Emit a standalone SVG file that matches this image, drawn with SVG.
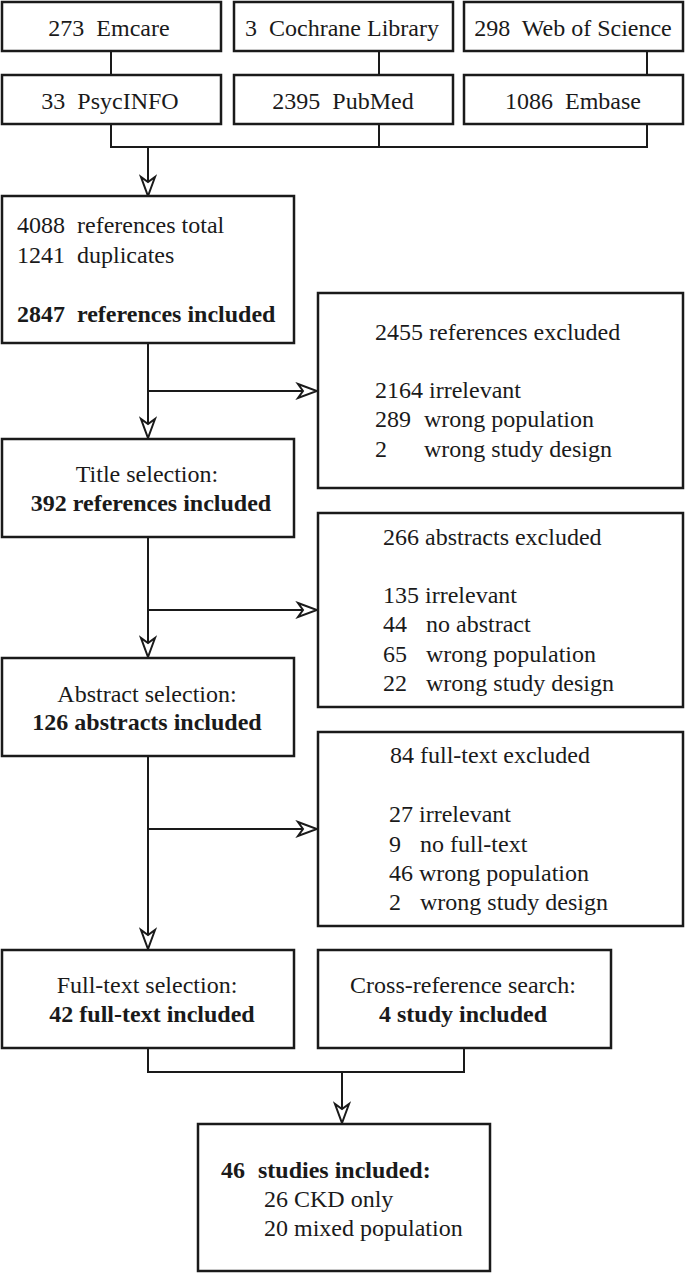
<svg xmlns="http://www.w3.org/2000/svg" width="685" height="1273" viewBox="0 0 685 1273">
<style>
.box{fill:#fff;stroke:#1a1a1a;stroke-width:2.5}
.ln{fill:none;stroke:#1a1a1a;stroke-width:2}
text{font-family:"Liberation Serif","Times New Roman",serif;font-size:24px;fill:#1a1a1a}
.b{font-weight:bold}
.c{text-anchor:middle}
.p{white-space:pre}
</style>
<defs>
<marker id="ah" markerUnits="userSpaceOnUse" viewBox="-22 -9 24 18" refX="0" refY="0" markerWidth="24" markerHeight="18" orient="auto">
<path d="M-19,-7 L0,0 L-19,7 L-14,0 Z" fill="#fff" stroke="#1a1a1a" stroke-width="2" stroke-linejoin="miter"/>
</marker>
</defs>
<rect width="685" height="1273" fill="#fff"/>
<g id="connectors">
<line class="ln" x1="111" y1="51" x2="111" y2="75"/>
<line class="ln" x1="379" y1="51" x2="379" y2="75"/>
<line class="ln" x1="647" y1="51" x2="647" y2="75"/>
<polyline class="ln" points="111,124 111,147 647,147 647,124"/>
<line class="ln" x1="379" y1="124" x2="379" y2="147"/>
<line class="ln" x1="148" y1="147" x2="148" y2="196" marker-end="url(#ah)"/>
<line class="ln" x1="148" y1="343" x2="148" y2="438" marker-end="url(#ah)"/>
<line class="ln" x1="148" y1="391" x2="317" y2="391" marker-end="url(#ah)"/>
<line class="ln" x1="148" y1="537" x2="148" y2="657" marker-end="url(#ah)"/>
<line class="ln" x1="148" y1="610" x2="317" y2="610" marker-end="url(#ah)"/>
<line class="ln" x1="148" y1="756" x2="148" y2="949" marker-end="url(#ah)"/>
<line class="ln" x1="148" y1="829" x2="317" y2="829" marker-end="url(#ah)"/>
<polyline class="ln" points="148,1048 148,1072 464,1072 464,1048"/>
<line class="ln" x1="342" y1="1072" x2="342" y2="1123" marker-end="url(#ah)"/>
</g>
<g id="emcare"><rect class="box" x="2" y="2" width="219" height="49"/><text class="c p" x="109" y="36" xml:space="preserve">273  Emcare</text></g>
<g id="cochrane"><rect class="box" x="234" y="2" width="219" height="49"/><text class="c p" x="342" y="36" xml:space="preserve">3  Cochrane Library</text></g>
<g id="wos"><rect class="box" x="464" y="2" width="219" height="49"/><text class="c p" x="573" y="36" xml:space="preserve">298  Web of Science</text></g>
<g id="psycinfo"><rect class="box" x="2" y="75" width="219" height="49"/><text class="c p" x="110" y="109" xml:space="preserve">33  PsycINFO</text></g>
<g id="pubmed"><rect class="box" x="234" y="75" width="219" height="49"/><text class="c p" x="343" y="109" xml:space="preserve">2395  PubMed</text></g>
<g id="embase"><rect class="box" x="464" y="75" width="219" height="49"/><text class="c p" x="573" y="109" xml:space="preserve">1086  Embase</text></g>
<g id="total">
<rect class="box" x="2" y="196" width="292" height="147"/>
<text x="17" y="233">4088<tspan x="77">references total</tspan></text>
<text x="17" y="263">1241<tspan x="77">duplicates</tspan></text>
<text class="b" x="17" y="322">2847<tspan x="77">references included</tspan></text>
</g>
<g id="excl1">
<rect class="box" x="318" y="293" width="365" height="195"/>
<text x="375" y="340">2455 references excluded</text>
<text x="375" y="398">2164 irrelevant</text>
<text x="375" y="427">289<tspan x="424">wrong population</tspan></text>
<text x="375" y="457">2<tspan x="424">wrong study design</tspan></text>
</g>
<g id="title">
<rect class="box" x="2" y="439" width="292" height="98"/>
<text class="c" x="147" y="482">Title selection:</text>
<text class="c b" x="151" y="511">392 references included</text>
</g>
<g id="excl2">
<rect class="box" x="318" y="513" width="365" height="194"/>
<text x="383" y="545">266 abstracts excluded</text>
<text x="383" y="603">135 irrelevant</text>
<text x="383" y="632">44<tspan x="426">no abstract</tspan></text>
<text x="383" y="662">65<tspan x="426">wrong population</tspan></text>
<text x="383" y="691">22<tspan x="426">wrong study design</tspan></text>
</g>
<g id="abstract">
<rect class="box" x="2" y="658" width="292" height="98"/>
<text class="c" x="147" y="702">Abstract selection:</text>
<text class="c b" x="147" y="730">126 abstracts included</text>
</g>
<g id="excl3">
<rect class="box" x="318" y="732" width="365" height="194"/>
<text x="390" y="763">84 full-text excluded</text>
<text x="389" y="822">27 irrelevant</text>
<text x="389" y="852">9<tspan x="420">no full-text</tspan></text>
<text x="389" y="881">46 wrong population</text>
<text x="389" y="910">2<tspan x="420">wrong study design</tspan></text>
</g>
<g id="fulltext">
<rect class="box" x="2" y="950" width="292" height="98"/>
<text class="c" x="147" y="993">Full-text selection:</text>
<text class="c b" x="152" y="1022">42 full-text included</text>
</g>
<g id="crossref">
<rect class="box" x="318" y="950" width="293" height="98"/>
<text class="c" x="463" y="993">Cross-reference search:</text>
<text class="c b" x="463" y="1022">4 study included</text>
</g>
<g id="final">
<rect class="box" x="198" y="1124" width="292" height="147"/>
<text class="b" x="221" y="1178">46<tspan x="258">studies included:</tspan></text>
<text x="264" y="1207">26 CKD only</text>
<text x="264" y="1236">20 mixed population</text>
</g>
</svg>
